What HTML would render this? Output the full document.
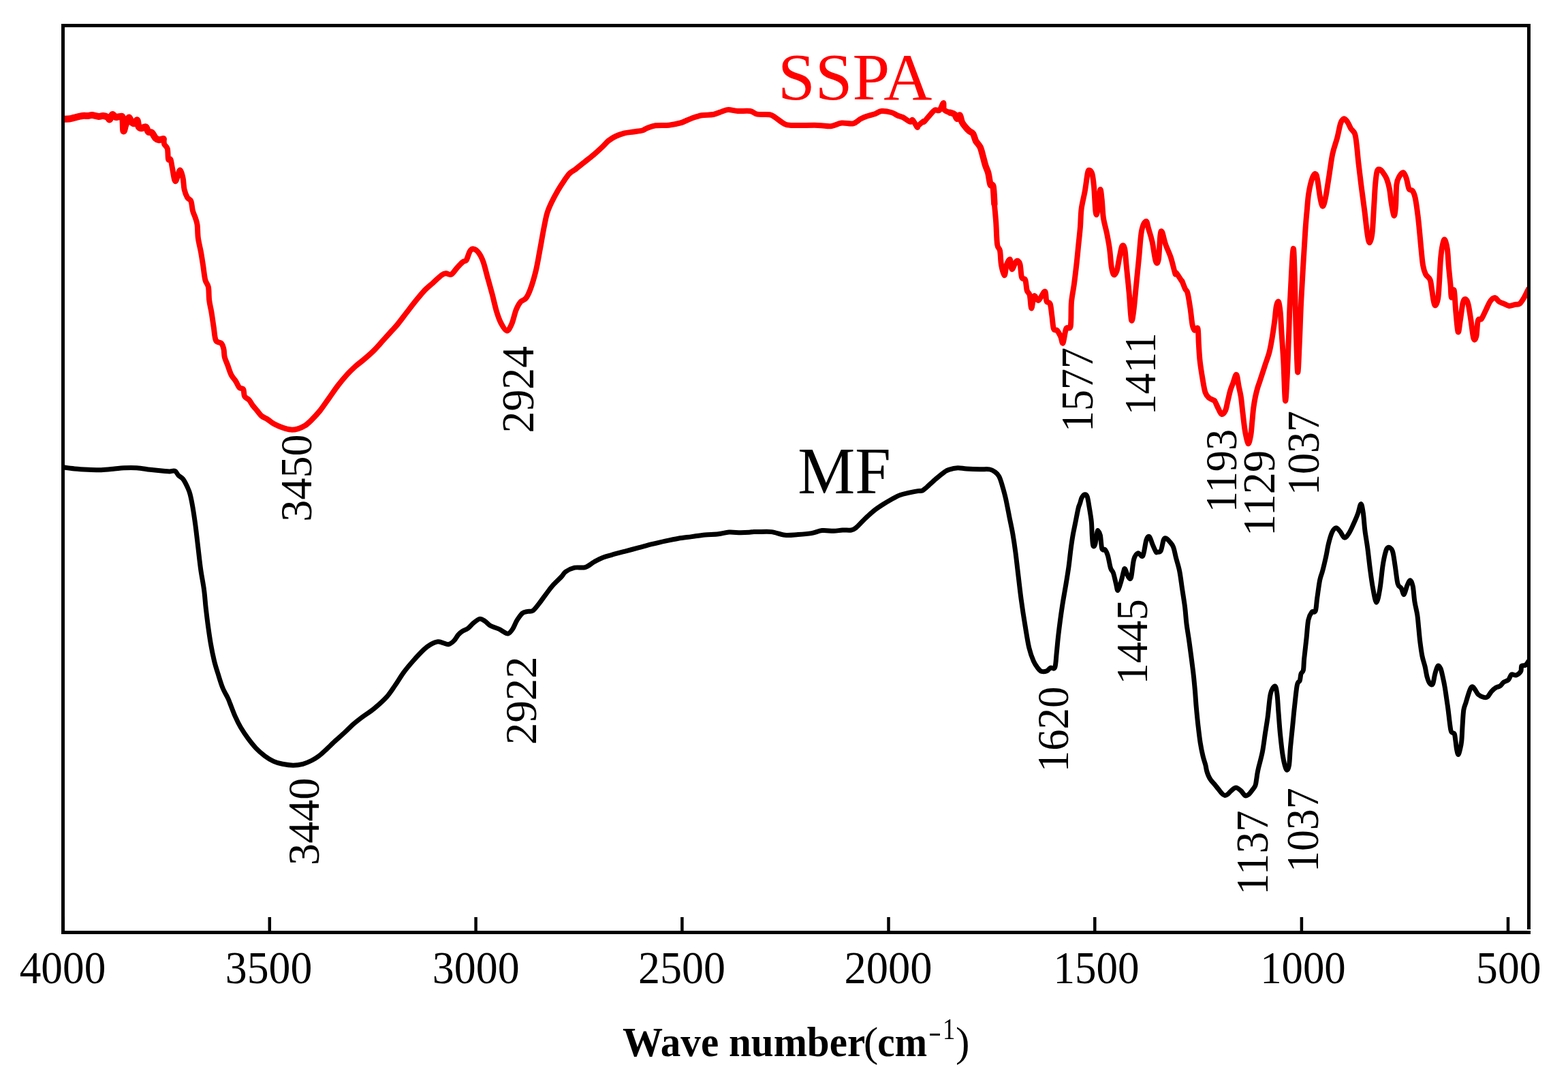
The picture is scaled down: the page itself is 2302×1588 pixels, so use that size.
<!DOCTYPE html>
<html><head><meta charset="utf-8"><title>FTIR</title><style>html,body{margin:0;padding:0;background:#fff;width:2302px;height:1588px;overflow:hidden;}svg{display:block;}</style></head><body>
<svg width="2302" height="1588" viewBox="0 0 2302 1588">
<rect width="2302" height="1588" fill="#fff"/>
<defs><clipPath id="pa"><rect x="95" y="40" width="2147" height="1326"/></clipPath></defs>
<g clip-path="url(#pa)">
<path d="M92.0,174.9 C93.8,174.8 100.1,174.6 103.0,174.2 C105.9,173.8 106.5,173.3 109.6,172.6 C112.6,171.9 118.0,170.4 121.3,170.0 C124.5,169.6 126.7,170.2 129.1,170.0 C131.5,169.8 133.0,168.7 135.6,168.9 C138.2,169.1 142.2,170.8 144.8,171.0 C147.4,171.2 149.1,169.8 151.3,170.0 C153.5,170.2 156.2,171.0 157.8,171.9 C159.4,172.8 159.9,175.8 161.1,175.2 C162.3,174.5 163.6,168.6 165.0,168.0 C166.4,167.4 167.9,171.3 169.5,171.9 C171.1,172.5 172.9,171.2 174.7,171.3 C176.4,171.4 178.9,169.1 180.0,172.6 C181.1,176.1 180.6,190.5 181.3,192.2 C182.1,193.9 183.2,186.3 184.5,183.0 C185.8,179.7 187.7,173.2 189.1,172.6 C190.5,171.9 191.7,177.7 193.0,179.1 C194.3,180.5 195.5,181.5 196.9,181.1 C198.3,180.7 200.4,175.8 201.5,176.5 C202.6,177.2 202.4,183.7 203.4,185.6 C204.4,187.5 205.6,188.1 207.3,188.2 C209.1,188.3 212.2,185.4 213.9,186.3 C215.7,187.2 216.3,192.1 217.8,193.5 C219.3,194.9 221.3,193.3 223.0,194.8 C224.7,196.3 226.5,200.9 228.2,202.6 C229.9,204.3 231.4,205.0 233.4,205.2 C235.4,205.4 238.6,202.8 239.9,203.9 C241.2,205.0 240.2,209.3 241.2,211.7 C242.2,214.1 244.8,214.5 245.8,218.2 C246.8,221.9 246.3,231.3 247.1,233.9 C247.9,236.5 249.4,231.7 250.4,233.9 C251.4,236.1 252.0,241.9 253.0,246.9 C254.0,251.9 255.2,261.0 256.2,263.9 C257.2,266.8 257.5,266.9 258.8,264.5 C260.1,262.1 262.5,250.0 264.1,249.5 C265.7,249.0 267.5,256.5 268.6,261.3 C269.7,266.1 269.5,273.4 270.6,278.2 C271.7,283.0 273.5,287.1 275.1,289.9 C276.7,292.7 279.1,291.8 280.4,295.1 C281.7,298.4 281.9,305.4 283.0,309.5 C284.1,313.6 285.8,316.5 286.9,319.9 C288.0,323.3 288.9,325.1 289.6,330.0 C290.3,334.9 290.0,343.1 290.9,349.6 C291.8,356.1 293.6,362.6 294.8,369.1 C296.0,375.6 296.9,381.8 298.0,388.7 C299.1,395.6 300.0,405.4 301.3,410.8 C302.6,416.2 304.9,416.3 305.9,421.3 C306.9,426.3 306.4,434.7 307.2,440.8 C307.9,446.9 309.3,451.3 310.4,457.8 C311.5,464.3 312.6,472.9 313.7,479.9 C314.8,486.8 315.0,495.5 316.9,499.5 C318.8,503.5 323.3,501.9 325.2,504.1 C327.1,506.3 327.7,509.2 328.5,512.6 C329.3,516.0 328.8,520.4 329.8,524.3 C330.8,528.2 332.7,531.8 334.3,536.1 C335.9,540.5 337.6,546.5 339.6,550.4 C341.6,554.3 344.2,556.5 346.1,559.5 C348.1,562.5 349.5,566.7 351.3,568.7 C353.1,570.7 355.9,569.1 357.2,571.3 C358.5,573.5 357.7,579.1 359.1,581.7 C360.5,584.3 363.7,584.7 365.6,586.9 C367.6,589.1 368.8,592.1 370.8,594.7 C372.8,597.3 375.2,600.0 377.4,602.6 C379.6,605.2 381.3,608.2 383.9,610.4 C386.5,612.6 390.0,613.6 393.0,615.6 C396.0,617.6 398.6,620.2 402.1,622.1 C405.6,624.0 409.8,625.9 413.9,627.3 C418.0,628.7 423.0,630.3 426.9,630.6 C430.8,630.9 433.8,630.3 437.3,629.3 C440.8,628.3 444.5,626.8 447.8,624.7 C451.1,622.6 453.2,620.6 456.9,616.9 C460.6,613.2 465.5,608.0 469.9,602.6 C474.2,597.2 478.6,590.4 483.0,584.3 C487.4,578.2 491.7,571.6 496.0,566.0 C500.3,560.4 504.6,555.2 509.0,550.4 C513.4,545.6 517.8,541.3 522.1,537.4 C526.5,533.5 530.8,530.6 535.1,526.9 C539.5,523.2 543.9,519.5 548.2,515.2 C552.6,510.9 556.9,505.7 561.2,500.9 C565.5,496.1 570.6,490.5 574.2,486.5 C577.8,482.5 579.4,481.3 583.0,476.9 C586.6,472.5 591.8,465.5 596.1,459.9 C600.5,454.2 604.8,448.4 609.1,443.0 C613.5,437.6 617.9,432.0 622.2,427.4 C626.6,422.8 630.9,419.5 635.2,415.6 C639.5,411.7 645.0,406.3 648.2,403.9 C651.5,401.5 652.3,401.5 654.7,401.3 C657.1,401.1 659.8,404.1 662.6,402.6 C665.4,401.1 668.9,395.2 671.7,392.2 C674.5,389.1 677.3,386.1 679.5,384.3 C681.7,382.6 683.0,384.3 684.7,381.7 C686.4,379.1 688.1,371.4 689.9,368.7 C691.6,366.0 693.0,365.0 695.2,365.4 C697.4,365.8 700.6,368.1 703.0,371.3 C705.4,374.5 707.3,378.2 709.5,384.3 C711.7,390.4 713.8,400.0 716.0,407.8 C718.2,415.6 720.3,423.1 722.5,431.3 C724.7,439.6 726.9,450.1 729.1,457.3 C731.3,464.5 733.1,469.6 735.6,474.3 C738.1,479.0 741.5,485.2 744.1,485.4 C746.7,485.6 748.9,480.7 751.2,475.6 C753.5,470.5 755.5,460.1 757.7,454.7 C759.9,449.3 761.9,445.8 764.3,443.0 C766.7,440.2 769.7,440.9 772.1,437.8 C774.5,434.8 776.2,431.2 778.6,424.7 C781.0,418.2 784.2,407.4 786.4,398.7 C788.6,390.0 790.1,380.7 791.6,372.6 C793.1,364.6 794.3,357.7 795.6,350.4 C796.9,343.1 798.3,335.4 799.6,329.0 C800.9,322.6 801.8,317.5 803.5,312.1 C805.2,306.7 807.4,301.9 810.0,296.5 C812.6,291.1 816.1,284.7 819.1,279.5 C822.1,274.3 825.4,269.3 828.2,265.2 C831.0,261.1 833.3,257.5 836.1,254.7 C838.9,251.9 841.5,251.0 845.2,248.2 C848.9,245.4 853.9,241.3 858.2,237.8 C862.6,234.3 866.9,231.1 871.3,227.4 C875.6,223.7 880.6,219.1 884.3,215.6 C888.0,212.1 890.1,209.1 893.4,206.5 C896.7,203.9 900.0,201.8 903.9,200.0 C907.8,198.2 912.6,196.5 916.9,195.4 C921.2,194.3 925.5,194.2 929.9,193.5 C934.2,192.8 939.7,192.4 943.0,191.5 C946.3,190.6 946.2,189.4 949.5,188.2 C952.8,187.0 957.1,185.1 962.5,184.3 C967.9,183.6 976.0,184.3 982.1,183.7 C988.2,183.0 993.6,182.0 999.0,180.4 C1004.4,178.8 1009.5,175.8 1014.7,173.9 C1019.9,172.1 1024.9,170.3 1030.3,169.3 C1035.7,168.3 1042.3,169.0 1047.3,168.0 C1052.3,167.0 1056.6,164.7 1060.3,163.5 C1064.0,162.3 1065.6,161.0 1069.4,160.9 C1073.2,160.8 1077.7,162.7 1083.0,163.0 C1088.3,163.3 1096.5,162.2 1101.3,163.0 C1106.1,163.8 1106.9,166.7 1111.7,167.6 C1116.5,168.5 1125.7,167.4 1130.0,168.2 C1134.3,169.0 1134.3,170.0 1137.8,172.2 C1141.3,174.4 1146.9,179.4 1150.8,181.3 C1154.7,183.2 1153.0,183.5 1161.3,183.9 C1169.6,184.3 1190.6,183.7 1200.4,183.9 C1210.2,184.1 1214.0,185.8 1219.9,185.2 C1225.8,184.6 1230.2,181.2 1235.6,180.6 C1241.0,179.9 1247.9,182.3 1252.5,181.3 C1257.1,180.3 1259.7,176.6 1263.0,174.8 C1266.3,173.1 1268.4,172.1 1272.1,170.8 C1275.8,169.5 1281.4,168.2 1285.1,166.9 C1288.8,165.6 1290.4,163.3 1294.3,163.0 C1298.2,162.7 1304.7,163.9 1308.6,165.0 C1312.5,166.1 1314.9,168.3 1317.7,169.5 C1320.5,170.7 1322.5,170.7 1325.5,172.2 C1328.5,173.7 1333.6,178.0 1336.0,178.7 C1338.4,179.3 1338.2,174.8 1339.9,176.1 C1341.6,177.4 1345.1,185.1 1346.4,186.5 C1347.7,187.9 1346.3,186.2 1347.8,184.8 C1349.3,183.4 1354.1,179.2 1355.6,178.2 C1357.1,177.2 1355.0,180.4 1356.8,178.7 C1358.5,177.0 1363.5,170.7 1366.1,167.8 C1368.7,164.9 1370.4,162.3 1372.6,161.3 C1374.8,160.3 1377.0,163.6 1379.1,161.9 C1381.2,160.2 1383.8,151.0 1385.0,150.9 C1386.2,150.8 1384.7,158.9 1386.3,161.3 C1387.9,163.7 1392.3,164.1 1394.8,165.2 C1397.3,166.3 1399.6,166.3 1401.3,167.8 C1403.0,169.3 1403.9,174.1 1405.2,174.3 C1406.5,174.5 1407.9,168.2 1409.1,169.1 C1410.3,170.0 1410.9,176.4 1412.4,179.5 C1413.9,182.6 1416.4,185.2 1418.2,187.4 C1420.0,189.6 1421.7,191.1 1423.4,192.6 C1425.2,194.1 1427.2,194.1 1428.7,196.5 C1430.2,198.9 1430.9,203.7 1432.6,206.9 C1434.3,210.2 1437.4,212.3 1439.1,216.0 C1440.8,219.7 1441.7,224.5 1443.0,229.1 C1444.3,233.7 1445.6,239.3 1446.9,243.4 C1448.2,247.5 1449.6,249.3 1450.8,253.9 C1452.0,258.5 1452.9,267.6 1454.1,270.8 C1455.3,274.1 1457.0,268.6 1458.0,273.4 C1459.0,278.2 1459.2,290.7 1459.9,299.5 C1460.6,308.3 1461.5,316.2 1462.2,326.1 C1462.9,336.0 1463.1,351.8 1464.1,358.7 C1465.1,365.6 1467.0,362.8 1468.0,367.8 C1469.0,372.8 1468.9,382.6 1470.0,388.7 C1471.1,394.8 1473.3,404.3 1474.6,404.3 C1475.9,404.3 1476.4,392.6 1477.8,388.7 C1479.2,384.8 1481.7,379.7 1483.0,380.8 C1484.3,381.9 1484.1,394.8 1485.6,395.2 C1487.1,395.6 1490.2,384.7 1492.2,383.4 C1494.2,382.1 1496.1,383.5 1497.4,387.4 C1498.7,391.3 1498.7,403.0 1500.0,406.9 C1501.3,410.8 1503.9,407.5 1505.2,410.8 C1506.5,414.1 1506.7,422.8 1507.8,426.5 C1508.9,430.2 1510.6,428.7 1511.7,433.0 C1512.8,437.3 1513.2,452.3 1514.3,452.5 C1515.4,452.7 1516.5,436.2 1518.2,434.3 C1519.9,432.4 1522.1,441.9 1524.7,440.8 C1527.3,439.7 1531.9,427.6 1533.9,427.8 C1535.9,428.0 1535.2,439.1 1536.5,442.1 C1537.8,445.1 1540.4,442.5 1541.7,446.0 C1543.0,449.5 1543.4,456.9 1544.3,463.0 C1545.2,469.1 1545.6,478.8 1546.9,482.5 C1548.2,486.2 1550.4,483.1 1552.1,485.1 C1553.8,487.1 1555.9,491.2 1557.3,494.3 C1558.7,497.4 1559.3,505.4 1560.6,503.4 C1561.9,501.4 1563.3,486.6 1565.2,482.5 C1567.1,478.4 1570.4,485.1 1571.7,478.6 C1573.0,472.1 1572.1,453.6 1573.0,443.4 C1573.9,433.2 1575.6,427.1 1576.9,417.3 C1578.2,407.5 1579.7,394.5 1580.8,384.7 C1581.9,374.9 1582.5,367.4 1583.4,358.7 C1584.3,350.0 1585.3,341.4 1586.0,332.6 C1586.7,323.8 1586.5,314.8 1587.7,306.0 C1588.9,297.2 1591.4,288.6 1592.9,279.9 C1594.4,271.2 1595.7,258.9 1596.8,253.9 C1597.9,248.9 1598.4,249.7 1599.5,249.9 C1600.6,250.1 1602.3,251.3 1603.4,255.2 C1604.5,259.1 1605.1,264.1 1606.0,273.4 C1606.9,282.7 1607.7,305.1 1608.6,311.2 C1609.5,317.3 1610.1,315.3 1611.2,309.9 C1612.3,304.5 1614.0,281.4 1615.1,278.6 C1616.2,275.8 1616.9,286.2 1617.7,293.0 C1618.5,299.8 1618.7,311.3 1619.9,319.6 C1621.1,327.9 1623.6,335.4 1625.1,343.0 C1626.6,350.6 1627.9,357.1 1629.0,365.2 C1630.1,373.2 1630.7,385.0 1631.7,391.3 C1632.7,397.6 1633.6,401.9 1634.9,403.0 C1636.2,404.1 1638.1,401.9 1639.5,397.8 C1640.9,393.7 1642.1,384.3 1643.4,378.2 C1644.7,372.1 1646.0,363.5 1647.3,361.3 C1648.6,359.1 1650.1,360.2 1651.2,365.2 C1652.3,370.2 1652.7,380.4 1653.8,391.3 C1654.9,402.2 1656.5,417.4 1657.7,430.4 C1658.9,443.4 1659.9,465.1 1661.0,469.5 C1662.1,473.9 1663.1,465.2 1664.3,456.5 C1665.5,447.8 1666.9,430.4 1668.2,417.3 C1669.5,404.2 1670.8,391.2 1672.1,378.2 C1673.4,365.2 1674.3,348.0 1676.0,339.1 C1677.7,330.2 1680.8,325.2 1682.5,324.8 C1684.2,324.4 1684.9,331.5 1686.4,336.5 C1687.9,341.5 1689.9,347.0 1691.6,354.8 C1693.3,362.6 1695.3,379.1 1696.8,383.4 C1698.3,387.7 1699.7,387.1 1700.8,380.8 C1701.9,374.5 1702.5,352.3 1703.4,345.6 C1704.3,338.9 1704.7,338.2 1706.0,340.4 C1707.3,342.6 1709.0,352.4 1711.2,358.7 C1713.4,365.0 1716.7,371.1 1719.0,378.2 C1721.3,385.3 1723.9,397.6 1725.2,401.3 C1726.5,405.0 1725.2,398.6 1726.8,400.4 C1728.4,402.2 1733.2,410.0 1734.7,412.1 C1736.2,414.2 1734.7,411.0 1735.6,413.0 C1736.5,415.0 1738.6,421.1 1739.9,423.9 C1741.2,426.7 1742.2,425.3 1743.5,430.0 C1744.8,434.7 1746.2,444.4 1747.4,452.2 C1748.6,460.0 1749.5,471.5 1750.6,476.9 C1751.7,482.3 1752.6,483.8 1753.9,484.7 C1755.2,485.6 1757.5,478.8 1758.5,482.1 C1759.5,485.4 1759.3,496.2 1759.8,504.3 C1760.3,512.4 1760.7,521.7 1761.7,530.4 C1762.7,539.1 1764.3,548.9 1765.6,556.5 C1766.9,564.1 1768.0,571.5 1769.5,576.0 C1771.0,580.5 1772.6,581.8 1774.8,583.8 C1777.0,585.8 1781.1,586.8 1782.6,587.7 C1784.1,588.7 1782.9,587.6 1783.9,589.5 C1784.9,591.4 1786.9,596.2 1788.5,599.3 C1790.1,602.3 1791.7,607.2 1793.4,607.8 C1795.2,608.3 1797.5,605.6 1799.0,602.6 C1800.5,599.6 1801.1,594.4 1802.3,589.5 C1803.5,584.6 1804.9,577.6 1806.2,573.1 C1807.5,568.6 1808.6,566.5 1810.1,562.6 C1811.6,558.7 1813.8,549.2 1815.2,549.9 C1816.6,550.5 1817.5,561.0 1818.6,566.5 C1819.7,572.0 1820.9,576.4 1821.9,582.9 C1822.9,589.4 1823.5,597.6 1824.5,605.8 C1825.5,614.0 1826.5,624.5 1827.8,632.0 C1829.1,639.5 1831.0,649.9 1832.4,651.0 C1833.8,652.1 1835.3,644.0 1836.3,638.6 C1837.3,633.2 1837.6,625.5 1838.3,618.9 C1839.0,612.3 1839.4,605.3 1840.2,599.3 C1841.0,593.3 1841.9,587.8 1842.9,582.9 C1843.9,578.0 1845.0,573.6 1846.1,569.8 C1847.2,566.0 1847.6,565.5 1849.4,560.0 C1851.2,554.5 1854.6,544.0 1856.9,536.9 C1859.2,529.8 1861.7,523.8 1863.4,517.3 C1865.1,510.8 1866.0,505.4 1867.3,497.8 C1868.6,490.2 1870.1,479.8 1871.2,471.7 C1872.3,463.6 1872.8,454.3 1873.8,449.5 C1874.8,444.7 1876.1,441.5 1877.1,443.0 C1878.1,444.5 1878.9,450.6 1879.7,458.7 C1880.5,466.8 1880.9,479.4 1881.7,491.3 C1882.5,503.2 1883.4,514.3 1884.3,530.4 C1885.2,546.5 1886.0,583.4 1886.9,587.7 C1887.8,592.1 1888.6,572.6 1889.5,556.5 C1890.4,540.4 1891.3,510.9 1892.1,491.3 C1892.9,471.7 1892.9,460.1 1894.1,439.1 C1895.3,418.1 1897.7,358.8 1899.1,365.3 C1900.5,371.8 1901.5,448.1 1902.5,478.2 C1903.5,508.3 1904.2,541.6 1905.1,546.0 C1906.0,550.4 1906.8,522.1 1907.7,504.3 C1908.6,486.5 1909.0,466.1 1910.4,439.1 C1911.8,412.1 1914.7,364.0 1916.1,342.5 C1917.5,321.0 1917.8,319.7 1918.7,309.9 C1919.6,300.1 1920.0,291.9 1921.3,283.9 C1922.6,275.9 1924.8,266.5 1926.5,261.7 C1928.2,256.9 1930.1,254.8 1931.4,255.2 C1932.7,255.6 1933.2,258.4 1934.3,264.3 C1935.4,270.2 1936.9,284.0 1938.2,290.4 C1939.5,296.8 1940.6,302.8 1941.9,302.8 C1943.2,302.8 1944.4,297.9 1946.0,290.4 C1947.6,282.9 1949.5,268.7 1951.3,257.8 C1953.0,246.9 1954.5,234.3 1956.5,225.2 C1958.5,216.1 1961.0,210.4 1963.0,203.0 C1965.0,195.6 1966.5,185.7 1968.2,180.9 C1969.9,176.1 1971.7,174.5 1973.4,174.3 C1975.1,174.1 1977.0,177.2 1978.6,179.6 C1980.2,182.0 1981.5,185.9 1983.2,188.7 C1985.0,191.5 1987.7,192.6 1989.1,196.5 C1990.5,200.4 1990.8,205.2 1991.7,212.2 C1992.6,219.1 1993.2,228.4 1994.3,238.2 C1995.4,248.0 1996.7,258.9 1998.2,270.8 C1999.7,282.8 2001.9,297.9 2003.4,309.9 C2004.9,321.8 2006.1,334.8 2007.3,342.5 C2008.5,350.2 2009.4,356.2 2010.6,356.2 C2011.8,356.2 2013.4,351.3 2014.5,342.5 C2015.6,333.7 2016.3,315.3 2017.1,303.4 C2017.9,291.4 2018.3,279.5 2019.1,270.8 C2019.9,262.1 2020.6,255.0 2021.7,251.3 C2022.8,247.6 2024.1,248.3 2025.6,248.7 C2027.1,249.1 2029.1,251.5 2030.8,253.9 C2032.5,256.3 2034.5,259.1 2036.0,263.0 C2037.5,266.9 2038.8,271.7 2039.9,277.3 C2041.0,282.9 2041.4,290.4 2042.5,296.9 C2043.6,303.4 2045.3,315.4 2046.4,316.5 C2047.5,317.6 2048.3,311.0 2049.0,303.4 C2049.7,295.8 2049.5,278.2 2050.4,270.8 C2051.3,263.4 2052.7,262.0 2054.3,259.1 C2055.9,256.2 2058.4,252.8 2060.1,253.2 C2061.8,253.6 2063.3,257.7 2064.7,261.7 C2066.1,265.7 2067.1,274.3 2068.6,277.3 C2070.1,280.3 2072.3,277.7 2073.8,279.9 C2075.3,282.1 2076.4,284.3 2077.7,290.4 C2079.0,296.5 2080.5,307.8 2081.6,316.5 C2082.7,325.2 2083.5,334.2 2084.3,342.5 C2085.1,350.8 2085.7,358.3 2086.5,366.1 C2087.3,373.9 2088.0,383.4 2089.1,389.5 C2090.2,395.6 2091.3,399.1 2093.0,402.6 C2094.7,406.1 2098.0,406.7 2099.5,410.4 C2101.0,414.1 2101.2,419.5 2102.1,424.7 C2103.0,429.9 2103.8,437.8 2104.7,441.7 C2105.6,445.6 2106.2,448.8 2107.3,448.2 C2108.4,447.6 2110.2,443.9 2111.2,437.8 C2112.2,431.7 2112.5,421.5 2113.2,411.7 C2113.8,401.9 2114.3,387.8 2115.1,379.1 C2115.9,370.4 2116.8,364.2 2117.8,359.6 C2118.8,355.0 2119.8,350.6 2121.0,351.7 C2122.2,352.8 2123.9,359.4 2124.9,366.1 C2125.9,372.9 2126.1,383.5 2126.9,392.2 C2127.7,400.9 2128.8,410.8 2129.5,418.2 C2130.2,425.6 2129.9,435.2 2130.8,436.5 C2131.7,437.8 2133.6,422.5 2134.7,426.0 C2135.8,429.5 2136.3,447.1 2137.3,457.3 C2138.3,467.5 2139.5,485.1 2140.6,487.3 C2141.7,489.5 2142.6,477.6 2143.8,470.4 C2145.0,463.2 2146.4,449.5 2147.7,444.3 C2149.0,439.1 2150.4,438.7 2151.7,439.1 C2153.0,439.5 2154.3,441.7 2155.6,446.9 C2156.9,452.1 2158.2,462.1 2159.5,470.4 C2160.8,478.7 2162.1,492.6 2163.4,496.5 C2164.7,500.4 2166.2,498.2 2167.3,493.8 C2168.4,489.4 2168.6,474.7 2169.9,470.4 C2171.2,466.1 2173.2,470.4 2175.1,467.8 C2177.0,465.2 2179.4,459.1 2181.6,454.7 C2183.8,450.3 2186.0,444.6 2188.2,441.7 C2190.4,438.8 2192.5,436.9 2194.7,437.1 C2196.9,437.3 2199.0,441.6 2201.2,443.0 C2203.4,444.4 2205.3,444.6 2207.7,445.6 C2210.1,446.6 2212.7,448.7 2215.5,448.9 C2218.3,449.1 2222.1,447.4 2224.7,446.9 C2227.3,446.3 2229.0,447.3 2231.2,445.6 C2233.4,443.9 2235.6,440.0 2237.7,436.5 C2239.8,433.0 2242.6,426.7 2243.6,424.7" fill="none" stroke="#ff0000" stroke-width="8" stroke-linejoin="round" stroke-linecap="round"/>
<path d="M92.6,685.8 C95.4,686.2 103.5,687.4 109.6,688.0 C115.7,688.6 122.6,689.0 129.1,689.3 C135.6,689.6 142.2,689.9 148.7,689.7 C155.2,689.5 162.8,688.5 168.2,688.0 C173.6,687.5 175.9,686.9 181.3,686.7 C186.7,686.5 194.3,686.3 200.8,686.7 C207.3,687.1 213.9,688.5 220.4,689.3 C226.9,690.1 235.1,690.9 239.9,691.3 C244.7,691.7 246.3,691.9 249.1,691.9 C251.9,691.9 254.7,690.3 256.9,691.3 C259.1,692.3 260.2,695.8 262.1,697.8 C264.1,699.8 266.4,700.2 268.6,703.0 C270.8,705.8 273.4,711.1 275.1,714.8 C276.8,718.5 277.7,720.2 279.0,725.2 C280.3,730.2 281.7,737.1 283.0,744.7 C284.3,752.3 285.6,761.0 286.9,770.8 C288.2,780.6 289.5,792.5 290.8,803.4 C292.1,814.3 293.2,825.5 294.7,836.0 C296.2,846.5 298.4,856.7 299.6,866.1 C300.9,875.5 301.2,883.5 302.2,892.2 C303.2,900.9 304.2,909.5 305.4,918.2 C306.6,926.9 307.8,935.6 309.3,944.3 C310.8,953.0 312.8,962.8 314.6,970.4 C316.5,978.0 318.3,983.4 320.4,989.9 C322.4,996.4 324.5,1003.6 326.9,1009.5 C329.3,1015.4 333.0,1021.2 334.8,1025.1 C336.6,1028.9 336.0,1028.1 337.8,1032.6 C339.6,1037.1 343.0,1046.3 345.6,1052.2 C348.2,1058.1 350.4,1062.6 353.5,1067.8 C356.6,1073.0 360.2,1078.4 363.9,1083.4 C367.6,1088.4 371.5,1093.5 375.6,1097.8 C379.7,1102.1 384.4,1106.2 388.7,1109.5 C393.0,1112.8 397.4,1115.3 401.7,1117.3 C406.0,1119.3 409.9,1120.3 414.7,1121.3 C419.5,1122.3 425.4,1123.2 430.4,1123.2 C435.4,1123.2 440.1,1122.5 444.7,1121.3 C449.3,1120.1 453.9,1118.0 457.8,1116.0 C461.7,1114.0 464.5,1112.3 468.2,1109.5 C471.9,1106.7 475.8,1102.9 479.9,1099.1 C484.0,1095.3 488.6,1090.7 493.0,1086.7 C497.4,1082.7 501.7,1079.0 506.0,1075.0 C510.3,1071.0 514.6,1066.4 519.0,1062.6 C523.4,1058.8 527.1,1056.0 532.1,1052.2 C537.1,1048.4 543.3,1044.9 549.2,1040.0 C555.1,1035.1 562.5,1028.7 567.7,1022.9 C572.9,1017.1 576.4,1011.2 580.5,1005.3 C584.6,999.4 587.8,993.5 592.1,987.6 C596.4,981.7 601.5,975.7 606.5,970.0 C611.5,964.3 617.9,957.5 622.2,953.4 C626.6,949.3 629.1,947.5 632.6,945.6 C636.1,943.7 640.0,942.0 643.0,941.7 C646.0,941.4 648.2,943.1 650.8,943.7 C653.4,944.4 656.1,946.2 658.7,945.6 C661.3,945.0 664.1,942.8 666.5,940.4 C668.9,938.0 670.8,933.7 673.0,931.3 C675.2,928.9 677.1,927.5 679.5,926.0 C681.9,924.5 684.7,924.1 687.3,922.1 C689.9,920.1 692.4,916.6 695.2,914.3 C698.0,912.0 701.5,908.8 704.3,908.4 C707.1,908.0 709.5,910.1 712.1,911.7 C714.7,913.3 716.4,916.2 719.9,918.2 C723.4,920.2 729.7,921.9 733.0,923.4 C736.3,924.9 737.3,926.3 739.5,927.4 C741.7,928.5 743.8,930.7 746.0,930.0 C748.2,929.3 750.3,926.7 752.5,923.4 C754.7,920.1 756.6,914.3 759.0,910.4 C761.4,906.5 764.3,902.2 766.9,900.0 C769.5,897.8 772.1,898.0 774.7,897.4 C777.3,896.8 779.7,898.1 782.5,896.1 C785.3,894.1 788.3,889.7 791.6,885.6 C794.9,881.5 798.8,875.6 802.1,871.3 C805.4,867.0 807.5,863.7 811.2,859.6 C814.9,855.5 821.0,849.9 824.2,846.5 C827.4,843.1 827.2,841.3 830.4,839.1 C833.6,836.9 838.7,834.3 843.5,833.2 C848.3,832.1 854.3,834.0 859.1,832.6 C863.9,831.2 867.9,827.1 872.2,824.7 C876.6,822.3 880.9,819.9 885.2,818.2 C889.5,816.5 892.8,815.8 898.2,814.3 C903.6,812.8 911.3,810.8 917.8,809.1 C924.3,807.4 930.8,805.6 937.3,803.9 C943.8,802.2 950.4,800.3 956.9,798.7 C963.4,797.1 970.0,795.5 976.5,794.1 C983.0,792.7 989.5,791.3 996.0,790.2 C1002.5,789.1 1009.1,788.5 1015.6,787.6 C1022.1,786.7 1028.6,785.6 1035.1,785.0 C1041.6,784.4 1048.8,784.4 1054.7,783.7 C1060.6,783.1 1064.9,781.4 1070.3,781.1 C1075.7,780.8 1082.3,781.7 1087.3,781.7 C1092.2,781.7 1096.8,781.5 1100.0,781.3 C1103.2,781.1 1104.6,780.5 1106.8,780.4 C1109.0,780.3 1108.7,780.6 1113.0,780.6 C1117.3,780.6 1126.1,779.8 1132.6,780.6 C1139.1,781.4 1145.7,784.6 1152.2,785.2 C1158.7,785.9 1165.2,784.9 1171.7,784.5 C1178.2,784.1 1185.4,783.6 1191.3,782.6 C1197.2,781.6 1201.5,779.2 1206.9,778.6 C1212.3,778.0 1218.9,779.4 1223.9,779.3 C1228.9,779.2 1232.6,778.2 1236.9,778.0 C1241.2,777.8 1246.6,778.5 1249.9,778.0 C1253.2,777.5 1253.2,777.4 1256.5,774.7 C1259.8,772.0 1265.2,765.8 1269.5,761.7 C1273.8,757.6 1278.2,753.5 1282.5,750.0 C1286.8,746.5 1291.2,743.6 1295.6,740.8 C1299.9,738.0 1304.3,735.4 1308.6,733.0 C1312.9,730.6 1317.2,728.1 1321.6,726.5 C1325.9,724.9 1330.3,724.2 1334.7,723.2 C1339.1,722.2 1344.5,721.1 1347.7,720.6 C1351.0,720.1 1352.0,721.0 1354.2,720.0 C1356.4,719.0 1357.5,717.6 1360.8,714.8 C1364.1,712.0 1369.5,706.7 1373.8,703.0 C1378.1,699.3 1383.6,694.9 1386.8,692.6 C1390.0,690.3 1389.8,690.3 1393.0,689.3 C1396.2,688.3 1401.8,686.9 1406.1,686.7 C1410.4,686.5 1413.7,687.7 1419.1,688.0 C1424.5,688.3 1433.0,688.6 1438.7,688.7 C1444.4,688.9 1449.3,688.2 1453.0,688.9 C1456.7,689.5 1458.5,690.9 1460.8,692.6 C1463.1,694.3 1465.0,695.8 1466.7,699.1 C1468.5,702.4 1469.7,706.8 1471.3,712.2 C1472.9,717.6 1474.8,724.1 1476.5,731.7 C1478.2,739.3 1480.0,749.1 1481.7,757.8 C1483.4,766.5 1485.4,775.2 1486.9,783.9 C1488.4,792.6 1489.5,800.1 1490.8,809.9 C1492.1,819.7 1493.3,831.0 1494.7,842.5 C1496.1,854.0 1497.4,866.5 1499.1,879.1 C1500.8,891.7 1503.0,906.2 1505.0,918.2 C1507.0,930.2 1508.7,942.1 1510.8,950.8 C1512.9,959.5 1515.2,965.4 1517.4,970.4 C1519.6,975.4 1522.0,978.3 1523.9,980.8 C1525.9,983.3 1526.9,984.8 1529.1,985.4 C1531.3,986.0 1534.7,985.6 1536.9,984.7 C1539.1,983.8 1540.1,981.1 1542.1,980.2 C1544.1,979.3 1547.2,983.3 1548.7,979.5 C1550.2,975.7 1550.4,965.3 1551.3,957.3 C1552.2,949.3 1552.6,942.1 1553.9,931.3 C1555.2,920.4 1557.2,904.6 1559.1,892.2 C1560.9,879.8 1563.3,867.3 1565.0,857.1 C1566.7,846.9 1567.9,839.5 1569.1,830.9 C1570.3,822.3 1571.1,813.2 1572.1,805.7 C1573.1,798.2 1573.9,792.3 1575.1,785.6 C1576.3,778.9 1577.8,772.2 1579.1,765.5 C1580.4,758.8 1582.1,749.8 1583.2,745.3 C1584.3,740.8 1584.9,740.8 1585.7,738.3 C1586.5,735.8 1587.0,732.3 1588.2,730.2 C1589.4,728.1 1591.4,725.9 1592.7,725.7 C1594.0,725.5 1595.2,725.9 1596.3,729.2 C1597.4,732.5 1598.3,739.2 1599.3,745.3 C1600.3,751.3 1601.6,758.8 1602.3,765.5 C1603.0,772.2 1602.9,779.7 1603.3,785.6 C1603.7,791.5 1604.0,798.5 1604.8,800.7 C1605.5,802.9 1606.8,802.1 1607.8,798.7 C1608.8,795.4 1610.1,783.8 1610.9,780.6 C1611.7,777.4 1611.7,778.8 1612.4,779.6 C1613.2,780.4 1614.5,781.2 1615.4,785.6 C1616.3,790.0 1616.7,802.2 1617.9,805.7 C1619.1,809.2 1621.0,805.0 1622.4,806.7 C1623.8,808.4 1625.2,811.3 1626.5,815.8 C1627.8,820.3 1629.2,829.7 1630.5,833.9 C1631.8,838.1 1633.2,837.1 1634.5,841.0 C1635.8,844.9 1637.4,852.9 1638.5,857.1 C1639.6,861.4 1640.0,867.2 1641.2,866.5 C1642.5,865.8 1644.6,857.6 1646.0,853.0 C1647.4,848.4 1648.6,842.0 1649.5,839.0 C1650.4,836.0 1650.4,833.6 1651.6,834.9 C1652.8,836.2 1655.2,845.0 1656.7,847.0 C1658.2,849.0 1659.4,851.4 1660.7,847.0 C1662.0,842.6 1663.0,826.7 1664.7,820.8 C1666.4,814.9 1668.6,812.6 1670.8,811.8 C1673.0,811.0 1675.8,819.0 1677.8,815.8 C1679.8,812.6 1681.3,797.3 1682.9,792.6 C1684.5,787.9 1685.9,786.6 1687.4,787.6 C1688.9,788.6 1690.3,795.0 1691.9,798.7 C1693.5,802.4 1695.8,807.9 1697.0,809.8 C1698.2,811.7 1697.9,810.5 1699.1,810.2 C1700.3,809.9 1702.8,811.1 1704.3,808.2 C1705.8,805.3 1707.0,795.6 1708.2,792.6 C1709.4,789.6 1710.0,789.6 1711.5,790.0 C1713.0,790.4 1715.6,793.0 1717.4,795.2 C1719.2,797.4 1721.1,799.1 1722.6,803.0 C1724.1,806.9 1725.0,812.8 1726.5,818.7 C1728.0,824.6 1730.2,830.6 1731.7,838.2 C1733.2,845.8 1734.3,855.6 1735.6,864.3 C1736.9,873.0 1738.4,881.7 1739.5,890.4 C1740.6,899.1 1741.0,907.8 1742.1,916.5 C1743.2,925.2 1744.4,930.9 1746.0,942.5 C1747.6,954.1 1750.3,974.5 1751.7,986.1 C1753.1,997.7 1753.5,1003.5 1754.3,1012.2 C1755.1,1020.9 1755.5,1029.5 1756.3,1038.2 C1757.1,1046.9 1757.9,1055.6 1758.9,1064.3 C1759.9,1073.0 1761.0,1082.8 1762.2,1090.4 C1763.4,1098.0 1764.8,1104.6 1766.1,1109.9 C1767.3,1115.2 1768.8,1118.7 1769.7,1122.2 C1770.6,1125.7 1770.8,1128.3 1771.5,1131.0 C1772.2,1133.7 1773.1,1136.2 1774.1,1138.5 C1775.1,1140.8 1776.1,1142.6 1777.6,1144.7 C1779.1,1146.8 1781.1,1148.8 1782.9,1150.9 C1784.7,1153.0 1786.4,1155.3 1788.2,1157.5 C1790.0,1159.7 1791.9,1162.4 1793.5,1164.1 C1795.1,1165.8 1796.4,1167.1 1797.9,1167.4 C1799.4,1167.7 1800.7,1167.0 1802.3,1165.8 C1803.9,1164.6 1805.5,1162.1 1807.6,1160.5 C1809.6,1158.9 1812.2,1156.1 1814.6,1156.1 C1816.9,1156.1 1819.5,1158.6 1821.7,1160.5 C1823.9,1162.4 1826.1,1166.6 1827.9,1167.6 C1829.7,1168.6 1831.0,1167.6 1832.7,1166.3 C1834.5,1165.0 1836.7,1161.9 1838.4,1159.7 C1840.1,1157.5 1841.9,1155.7 1842.9,1153.1 C1843.9,1150.5 1844.1,1147.2 1844.6,1144.2 C1845.1,1141.2 1845.4,1138.3 1845.9,1135.4 C1846.4,1132.5 1846.5,1131.9 1847.7,1126.6 C1849.0,1121.3 1851.8,1111.6 1853.4,1103.4 C1855.0,1095.2 1856.0,1086.0 1857.3,1077.3 C1858.6,1068.6 1860.0,1061.1 1861.3,1051.3 C1862.6,1041.5 1863.5,1026.1 1865.2,1018.7 C1866.9,1011.3 1870.1,1006.9 1871.7,1006.9 C1873.3,1006.9 1874.0,1012.4 1874.9,1018.7 C1875.8,1025.0 1876.1,1034.9 1876.9,1044.7 C1877.7,1054.5 1878.4,1066.4 1879.5,1077.3 C1880.6,1088.2 1881.9,1101.2 1883.4,1109.9 C1884.9,1118.6 1887.1,1127.3 1888.6,1129.5 C1890.1,1131.7 1891.5,1128.4 1892.5,1123.0 C1893.5,1117.6 1893.6,1106.7 1894.5,1096.9 C1895.4,1087.1 1896.8,1074.1 1897.8,1064.3 C1898.8,1054.5 1899.3,1048.0 1900.4,1038.2 C1901.5,1028.4 1903.0,1012.1 1904.3,1005.6 C1905.6,999.1 1907.2,1001.9 1908.2,999.1 C1909.2,996.3 1909.2,991.3 1910.1,988.7 C1911.0,986.1 1912.6,987.2 1913.4,983.5 C1914.2,979.8 1913.9,974.4 1914.7,966.5 C1915.5,958.6 1917.1,945.4 1918.1,936.0 C1919.1,926.6 1919.5,916.2 1920.8,909.9 C1922.1,903.6 1924.3,900.4 1926.0,898.2 C1927.7,896.0 1929.9,900.4 1931.2,896.9 C1932.5,893.4 1932.7,884.9 1933.8,877.3 C1934.9,869.7 1936.4,857.8 1937.7,851.3 C1939.0,844.8 1940.1,843.8 1941.6,838.2 C1943.1,832.6 1945.0,824.5 1946.5,817.8 C1948.0,811.1 1948.9,804.3 1950.4,798.2 C1951.9,792.1 1953.8,785.2 1955.6,781.3 C1957.4,777.4 1959.5,775.0 1961.5,774.8 C1963.5,774.6 1965.3,777.6 1967.4,780.0 C1969.5,782.4 1971.7,788.7 1973.9,789.1 C1976.1,789.5 1978.2,785.9 1980.4,782.6 C1982.6,779.3 1984.7,774.3 1986.9,769.5 C1989.1,764.7 1991.7,758.9 1993.5,753.9 C1995.3,748.9 1996.7,739.8 1998.0,739.6 C1999.3,739.4 2000.3,746.1 2001.3,752.6 C2002.3,759.1 2002.8,770.0 2003.9,778.7 C2005.0,787.4 2006.5,794.9 2007.8,804.7 C2009.1,814.5 2010.4,827.5 2011.7,837.3 C2013.0,847.1 2014.1,855.6 2015.6,863.4 C2017.1,871.2 2019.1,884.3 2020.8,884.3 C2022.5,884.3 2024.5,872.3 2026.0,863.4 C2027.5,854.5 2028.7,839.5 2030.0,830.8 C2031.3,822.1 2032.6,815.9 2033.9,811.3 C2035.2,806.7 2036.1,803.8 2037.8,803.4 C2039.5,803.0 2042.6,804.1 2044.3,808.7 C2046.0,813.3 2046.9,822.8 2048.2,830.8 C2049.5,838.8 2050.6,851.5 2052.1,856.9 C2053.6,862.3 2055.8,860.8 2057.3,863.4 C2058.8,866.0 2059.9,873.1 2061.3,872.5 C2062.7,871.9 2064.3,863.0 2065.8,859.5 C2067.3,856.0 2069.0,851.5 2070.4,851.7 C2071.8,851.9 2073.2,855.6 2074.3,860.8 C2075.4,866.0 2075.8,876.0 2076.9,883.0 C2078.0,890.0 2079.8,896.2 2080.8,902.5 C2081.8,908.8 2082.0,914.4 2082.7,920.9 C2083.4,927.4 2083.9,934.8 2084.8,941.8 C2085.7,948.8 2086.7,956.6 2087.9,962.7 C2089.1,968.8 2090.9,973.2 2092.1,978.4 C2093.3,983.6 2094.1,989.9 2095.3,994.1 C2096.5,998.3 2098.0,1001.9 2099.4,1003.5 C2100.8,1005.1 2102.4,1006.0 2103.6,1003.5 C2104.8,1001.0 2105.6,993.2 2106.8,988.8 C2108.0,984.4 2109.5,978.5 2110.9,977.3 C2112.3,976.1 2113.9,978.7 2115.1,981.5 C2116.3,984.3 2117.2,989.4 2118.3,994.1 C2119.4,998.8 2120.4,1003.7 2121.4,1009.8 C2122.4,1015.9 2123.7,1025.3 2124.5,1030.7 C2125.3,1036.1 2125.3,1035.5 2126.1,1042.0 C2126.9,1048.5 2128.6,1064.0 2129.5,1069.5 C2130.4,1075.0 2130.6,1073.8 2131.5,1075.0 C2132.4,1076.2 2134.3,1075.0 2135.2,1077.0 C2136.1,1079.0 2136.3,1083.5 2136.9,1087.3 C2137.5,1091.1 2137.9,1096.6 2138.6,1100.0 C2139.3,1103.4 2140.1,1107.5 2140.9,1107.5 C2141.7,1107.5 2142.7,1103.4 2143.5,1100.0 C2144.3,1096.6 2145.2,1093.2 2145.8,1087.3 C2146.4,1081.4 2146.6,1072.2 2147.1,1064.7 C2147.6,1057.2 2148.0,1047.7 2148.8,1042.0 C2149.7,1036.3 2151.1,1034.5 2152.2,1030.7 C2153.3,1026.9 2154.5,1022.7 2155.6,1019.3 C2156.7,1015.9 2157.9,1012.2 2159.0,1010.3 C2160.1,1008.4 2161.3,1007.6 2162.4,1008.0 C2163.5,1008.4 2164.5,1010.6 2165.8,1012.5 C2167.1,1014.4 2168.2,1017.5 2170.3,1019.3 C2172.4,1021.1 2176.0,1022.7 2178.3,1023.3 C2180.6,1023.9 2182.0,1024.1 2183.9,1022.7 C2185.8,1021.3 2187.5,1017.1 2189.6,1014.8 C2191.7,1012.5 2194.3,1010.4 2196.4,1009.1 C2198.5,1007.8 2200.2,1008.2 2202.1,1006.9 C2204.0,1005.6 2205.6,1002.7 2207.7,1001.2 C2209.8,999.7 2212.6,999.7 2214.5,997.8 C2216.4,995.9 2217.2,991.0 2219.1,989.9 C2221.0,988.8 2223.6,991.8 2225.9,991.0 C2228.2,990.2 2231.4,987.6 2232.7,985.3 C2234.0,983.0 2232.7,978.9 2233.8,977.4 C2234.9,975.9 2237.8,977.4 2239.5,976.3 C2241.2,975.1 2243.2,971.5 2244.0,970.5" fill="none" stroke="#000" stroke-width="7" stroke-linejoin="round" stroke-linecap="round"/>
<path d="M92.0,174.9 C93.8,174.8 100.1,174.6 103.0,174.2 C105.9,173.8 106.5,173.3 109.6,172.6 C112.6,171.9 118.0,170.4 121.3,170.0 C124.5,169.6 126.7,170.2 129.1,170.0 C131.5,169.8 133.0,168.7 135.6,168.9 C138.2,169.1 142.2,170.8 144.8,171.0 C147.4,171.2 149.1,169.8 151.3,170.0 C153.5,170.2 156.2,171.0 157.8,171.9 C159.4,172.8 159.9,175.8 161.1,175.2 C162.3,174.5 163.6,168.6 165.0,168.0 C166.4,167.4 167.9,171.3 169.5,171.9 C171.1,172.5 172.9,171.2 174.7,171.3 C176.4,171.4 178.9,169.1 180.0,172.6 C181.1,176.1 180.6,190.5 181.3,192.2 C182.1,193.9 183.2,186.3 184.5,183.0 C185.8,179.7 187.7,173.2 189.1,172.6 C190.5,171.9 191.7,177.7 193.0,179.1 C194.3,180.5 195.5,181.5 196.9,181.1 C198.3,180.7 200.4,175.8 201.5,176.5 C202.6,177.2 202.4,183.7 203.4,185.6 C204.4,187.5 205.6,188.1 207.3,188.2 C209.1,188.3 212.2,185.4 213.9,186.3 C215.7,187.2 216.3,192.1 217.8,193.5 C219.3,194.9 221.3,193.3 223.0,194.8 C224.7,196.3 226.5,200.9 228.2,202.6 C229.9,204.3 231.4,205.0 233.4,205.2 C235.4,205.4 238.8,204.1 239.9,203.9" fill="none" stroke="#ff0000" stroke-width="10" stroke-linejoin="round" stroke-linecap="round"/>
<path d="M1394.8,165.2 C1395.9,165.6 1399.6,166.3 1401.3,167.8 C1403.0,169.3 1403.9,174.1 1405.2,174.3 C1406.5,174.5 1407.9,168.2 1409.1,169.1 C1410.3,170.0 1410.9,176.4 1412.4,179.5 C1413.9,182.6 1416.4,185.2 1418.2,187.4 C1420.0,189.6 1421.7,191.1 1423.4,192.6 C1425.2,194.1 1427.2,194.1 1428.7,196.5 C1430.2,198.9 1430.9,203.7 1432.6,206.9 C1434.3,210.2 1437.4,212.3 1439.1,216.0 C1440.8,219.7 1441.7,224.5 1443.0,229.1 C1444.3,233.7 1445.6,239.3 1446.9,243.4 C1448.2,247.5 1449.6,249.3 1450.8,253.9 C1452.0,258.5 1452.9,267.6 1454.1,270.8 C1455.3,274.1 1457.0,268.6 1458.0,273.4 C1459.0,278.2 1459.6,295.1 1459.9,299.5" fill="none" stroke="#ff0000" stroke-width="9.5" stroke-linejoin="round" stroke-linecap="round"/>
</g>
<g fill="#000">
<rect x="90" y="35" width="5" height="1336"/>
<rect x="90" y="35" width="2157" height="5"/>
<rect x="2242" y="35" width="5" height="1329"/>
<rect x="90" y="1366" width="2157" height="5"/>
<rect x="90.55" y="1346" width="4.5" height="21"/>
<rect x="393.55" y="1346" width="4.5" height="21"/>
<rect x="696.35" y="1346" width="4.5" height="21"/>
<rect x="999.15" y="1346" width="4.5" height="21"/>
<rect x="1302.25" y="1346" width="4.5" height="21"/>
<rect x="1605.05" y="1346" width="4.5" height="21"/>
<rect x="1908.65" y="1346" width="4.5" height="21"/>
<rect x="2211.75" y="1346" width="4.5" height="21"/>
</g>
<text transform="matrix(0.9591,0,0,1.0192,28.70,1443.49)" font-family="'Liberation Serif','Times New Roman',serif" font-size="66" fill="#000">4000</text>
<text transform="matrix(0.9663,0,0,1.0135,330.76,1443.24)" font-family="'Liberation Serif','Times New Roman',serif" font-size="66" fill="#000">3500</text>
<text transform="matrix(0.9687,0,0,1.0135,634.85,1443.24)" font-family="'Liberation Serif','Times New Roman',serif" font-size="66" fill="#000">3000</text>
<text transform="matrix(0.9700,0,0,1.0192,936.99,1443.49)" font-family="'Liberation Serif','Times New Roman',serif" font-size="66" fill="#000">2500</text>
<text transform="matrix(0.9787,0,0,1.0192,1239.46,1443.49)" font-family="'Liberation Serif','Times New Roman',serif" font-size="66" fill="#000">2000</text>
<text transform="matrix(0.9560,0,0,1.0192,1546.40,1443.49)" font-family="'Liberation Serif','Times New Roman',serif" font-size="66" fill="#000">1500</text>
<text transform="matrix(0.9519,0,0,1.0192,1850.13,1443.49)" font-family="'Liberation Serif','Times New Roman',serif" font-size="66" fill="#000">1000</text>
<text transform="matrix(0.9639,0,0,1.0192,2167.09,1443.49)" font-family="'Liberation Serif','Times New Roman',serif" font-size="66" fill="#000">500</text>
<text transform="matrix(0,-0.9719,1.0045,0,456.95,765.66)" font-family="'Liberation Serif','Times New Roman',serif" font-size="66" fill="#000">3450</text>
<text transform="matrix(0,-0.9656,1.0215,0,783.49,635.40)" font-family="'Liberation Serif','Times New Roman',serif" font-size="66" fill="#000">2924</text>
<text transform="matrix(0,-0.9400,1.0136,0,1604.29,634.11)" font-family="'Liberation Serif','Times New Roman',serif" font-size="66" fill="#000">1577</text>
<text transform="matrix(0,-0.9328,1.0092,0,1695.90,609.16)" font-family="'Liberation Serif','Times New Roman',serif" font-size="66" fill="#000">1411</text>
<text transform="matrix(0,-0.9452,1.0045,0,1814.65,752.23)" font-family="'Liberation Serif','Times New Roman',serif" font-size="66" fill="#000">1193</text>
<text transform="matrix(0,-0.9727,1.0102,0,1870.89,786.99)" font-family="'Liberation Serif','Times New Roman',serif" font-size="66" fill="#000">1129</text>
<text transform="matrix(0,-0.9392,1.0237,0,1936.39,727.00)" font-family="'Liberation Serif','Times New Roman',serif" font-size="66" fill="#000">1037</text>
<text transform="matrix(0,-0.9727,1.0067,0,468.04,1269.96)" font-family="'Liberation Serif','Times New Roman',serif" font-size="66" fill="#000">3440</text>
<text transform="matrix(0,-0.9812,0.9944,0,786.50,1092.94)" font-family="'Liberation Serif','Times New Roman',serif" font-size="66" fill="#000">2922</text>
<text transform="matrix(0,-0.9527,1.0067,0,1568.04,1133.28)" font-family="'Liberation Serif','Times New Roman',serif" font-size="66" fill="#000">1620</text>
<text transform="matrix(0,-0.9479,0.9932,0,1684.40,1004.45)" font-family="'Liberation Serif','Times New Roman',serif" font-size="66" fill="#000">1445</text>
<text transform="matrix(0,-0.9582,1.0112,0,1861.14,1313.41)" font-family="'Liberation Serif','Times New Roman',serif" font-size="66" fill="#000">1137</text>
<text transform="matrix(0,-0.9392,1.0147,0,1935.39,1280.10)" font-family="'Liberation Serif','Times New Roman',serif" font-size="66" fill="#000">1037</text>
<text transform="matrix(1.0155,0,0,1.0054,1142.00,145.59)" font-family="'Liberation Serif','Times New Roman',serif" font-size="97" fill="#ff0000">SSPA</text>
<text transform="matrix(0.9739,0,0,0.9953,1171.22,723.90)" font-family="'Liberation Serif','Times New Roman',serif" font-size="97" fill="#000">MF</text>
<text transform="matrix(0.9690,0,0,1.0000,913.97,1549.90)" font-family="'Liberation Serif','Times New Roman',serif" font-size="61" font-weight="bold" fill="#000">Wave number</text>
<text transform="matrix(1.0645,0,0,1.0000,1267.87,1549.90)" font-family="'Liberation Serif','Times New Roman',serif" font-size="61" fill="#000">(</text>
<text transform="matrix(0.9365,0,0,1.0000,1288.13,1549.90)" font-family="'Liberation Serif','Times New Roman',serif" font-size="61" font-weight="bold" fill="#000">cm</text>
<text transform="matrix(0.8896,0,0,1.6571,1363.44,1537.83)" font-family="'Liberation Serif','Times New Roman',serif" font-size="36" fill="#000">−</text>
<text transform="matrix(0.8323,0,0,1.0034,1383.88,1525.30)" font-family="'Liberation Serif','Times New Roman',serif" font-size="44" fill="#000">1</text>
<text transform="matrix(1.0095,0,0,1.0000,1403.08,1549.90)" font-family="'Liberation Serif','Times New Roman',serif" font-size="61" fill="#000">)</text>
</svg>
</body></html>
